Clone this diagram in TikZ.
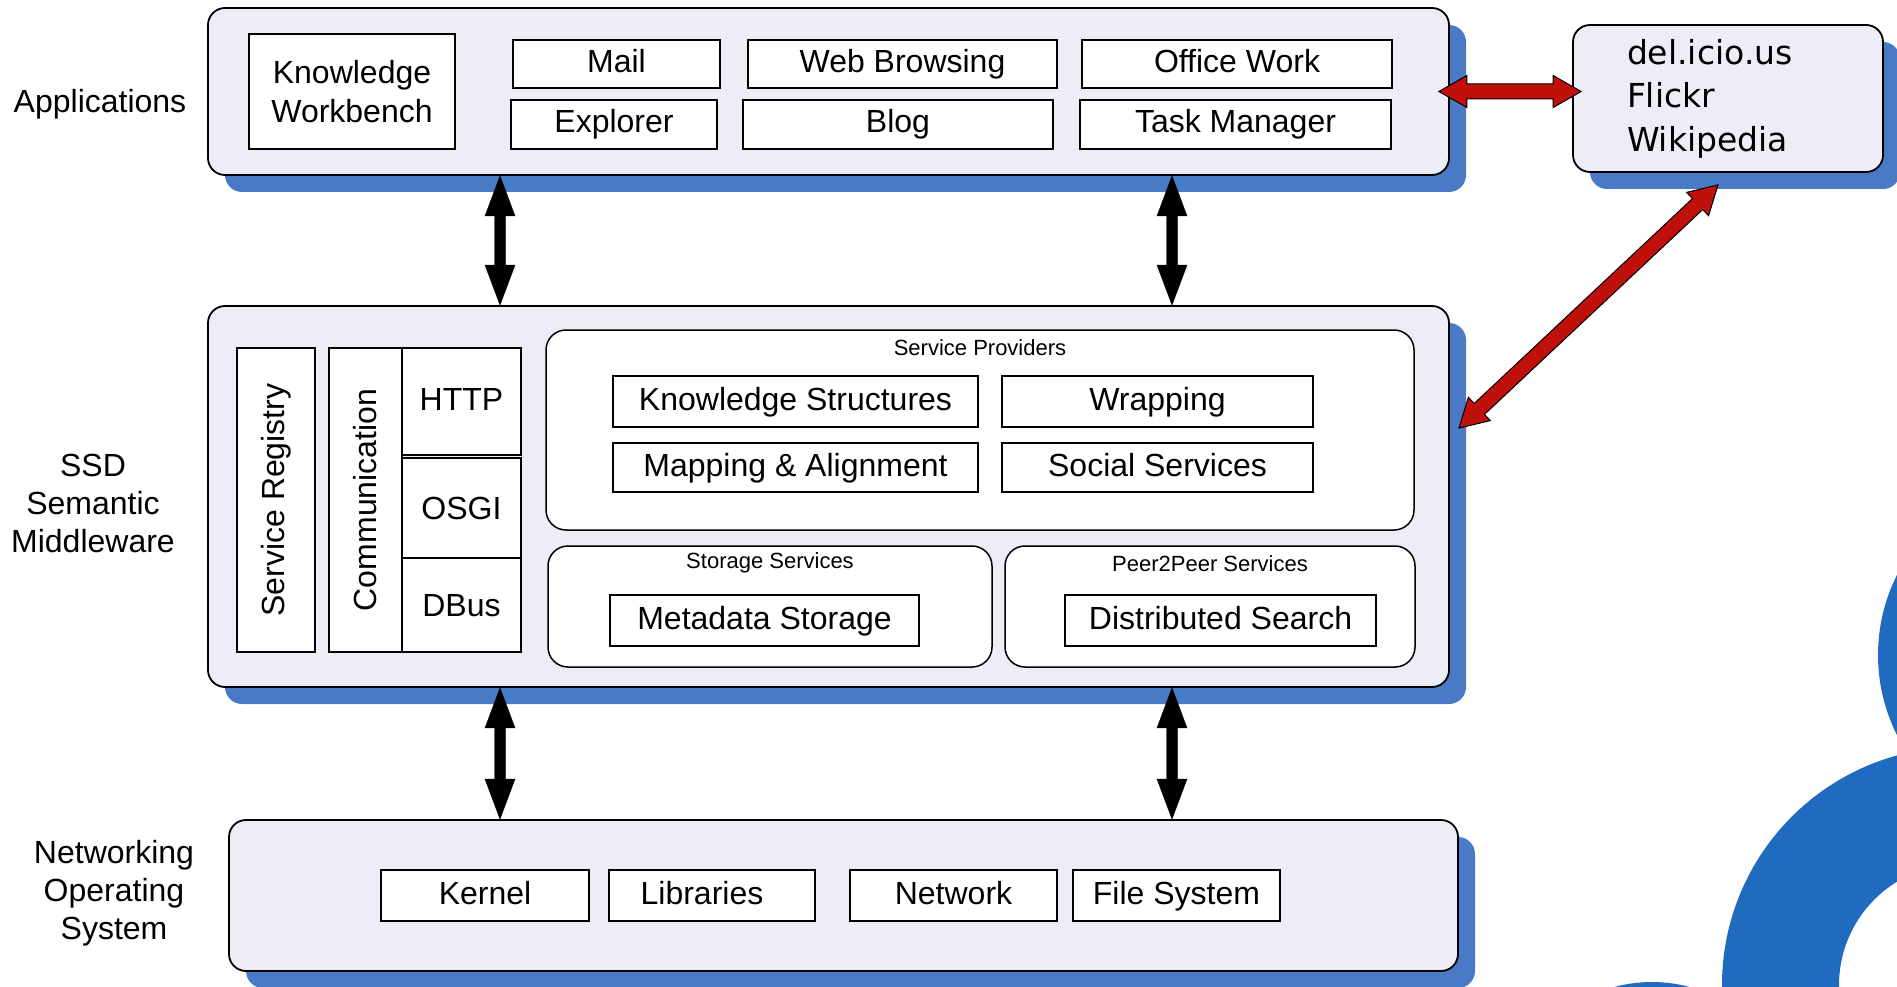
\documentclass[tikz,border=0pt]{standalone}
\usepackage{fontspec}
\setmainfont{Liberation Sans}
\newfontfamily\verafont{DejaVu Sans}
\usetikzlibrary{calc,shadows}

\definecolor{boxfill}{RGB}{236,237,246}
\definecolor{shadowblue}{RGB}{74,122,198}
\definecolor{logoblue}{RGB}{32,107,192}
\definecolor{arrowred}{RGB}{192,16,12}

% fat double-headed arrow: style, from, to, half shaft, half head width, head length
\newcommand{\fatarrow}[6]{%
  \draw[#1] (#2)
    -- ($(#2)!#6!(#3)!#5!90:(#3)$)
    -- ($(#2)!#6!(#3)!#4!90:(#3)$)
    -- ($(#3)!#6!(#2)!#4!-90:(#2)$)
    -- ($(#3)!#6!(#2)!#5!-90:(#2)$)
    -- (#3)
    -- ($(#3)!#6!(#2)!#5!90:(#2)$)
    -- ($(#3)!#6!(#2)!#4!90:(#2)$)
    -- ($(#2)!#6!(#3)!#4!-90:(#3)$)
    -- ($(#2)!#6!(#3)!#5!-90:(#3)$)
    -- cycle;}

\tikzset{
  % node spanning the rectangle with corners (#1,#2) and (#3,#4)
  area/.style n args={4}{minimum width={(#3-#1)*1pt}, minimum height={(#4-#2)*1pt},
    at={({(#1+#3)/2},{(#2+#4)/2})}},
  layerbox/.style={draw=black, line width=1.8pt, fill=boxfill, rounded corners=17pt,
    inner sep=0pt,
    drop shadow={shadow xshift=17pt, shadow yshift=-17pt, fill=shadowblue, opacity=1}},
  groupbox/.style={draw=black, line width=1.5pt, fill=white, rounded corners=20pt,
    inner sep=0pt},
  itembox/.style={draw=black, line width=1.5pt, fill=white, inner sep=0pt,
    font=\fontsize{32}{39}\selectfont, align=center},
  oneline/.style={text height=23pt, text depth=6pt},
  lowline/.style={text height=23pt, text depth=1pt},
  grouptitle/.style={font=\fontsize{22}{26}\selectfont, inner sep=0pt, anchor=center},
  sidelabel/.style={font=\fontsize{32}{38}\selectfont, align=center, inner sep=0pt},
}

\begin{document}
\begin{tikzpicture}[x=1pt, y=-1pt]
\useasboundingbox (0,0) rectangle (1897,987);

% decorative logo shapes at the lower right
\fill[logoblue] (2056,655) circle[radius=178pt];
\fill[logoblue, even odd rule] (1960,985) circle[radius=238pt] (1960,985) circle[radius=121pt];
\fill[logoblue] (1652,1125) circle[radius=143pt];

% layer labels
\node[sidelabel] (lapps) at (100,104) {Applications};
\node[sidelabel] (lssd) at (93,503) {SSD\\Semantic\\Middleware};
\node[sidelabel] (los) at (114,893) {Networking\\Operating\\System};

% main layers
\node[layerbox, area={208}{8}{1449}{175}] (apps) {};
\node[layerbox, area={1573}{25}{1883}{172},
      font=\verafont\fontsize{33}{43.5}\selectfont, align=left, text width=202pt] (del)
      {del.icio.us\\Flickr\\Wikipedia};
\node[layerbox, area={208}{306}{1449}{687}] (ssd) {};
\node[layerbox, area={229}{820}{1458}{971}] (os) {};

% applications
\node[itembox, area={249}{34}{455}{149}] (kw) {Knowledge\\Workbench};
\node[itembox, oneline, area={513}{40}{720}{88}] (mail) {Mail};
\node[itembox, oneline, area={511}{100}{717}{149}] (explorer) {Explorer};
\node[itembox, oneline, area={748}{40}{1057}{88}] (web) {Web Browsing};
\node[itembox, oneline, area={743}{100}{1053}{149}] (blog) {Blog};
\node[itembox, oneline, area={1082}{40}{1392}{88}] (office) {Office Work};
\node[itembox, oneline, area={1080}{100}{1391}{149}] (task) {Task Manager};

% middleware
\node[itembox, area={237}{348}{315}{652}] (registry) {\rotatebox{90}{Service Registry}};
\node[itembox, area={329}{348}{402}{652}] (comm) {\rotatebox{90}{Communication}};
\node[itembox, oneline, area={402}{348}{521}{455}] (http) {HTTP};
\node[itembox, lowline, area={402}{458}{521}{558}] (osgi) {OSGI};
\node[itembox, lowline, area={402}{558}{521}{652}] (dbus) {DBus};

\node[groupbox, area={546}{330}{1414}{530},
      label={[grouptitle, yshift=-18pt]north:Service Providers}] (providers) {};
\node[itembox, oneline, area={613}{376}{978}{427}] (ks) {Knowledge Structures};
\node[itembox, oneline, area={1002}{376}{1313}{427}] (wrap) {Wrapping};
\node[itembox, oneline, area={613}{443}{978}{492}] (mapping) {Mapping \& Alignment};
\node[itembox, oneline, area={1002}{443}{1313}{492}] (social) {Social Services};

\node[groupbox, area={548}{546}{992}{667},
      label={[grouptitle, yshift=-18pt]north:Storage Services}] (storage) {};
\node[itembox, oneline, area={610}{595}{919}{646}] (meta) {Metadata Storage};

\node[groupbox, area={1005}{546}{1415}{667},
      label={[grouptitle, yshift=-18pt]north:Peer2Peer Services}] (p2p) {};
\node[itembox, oneline, area={1065}{595}{1376}{646}] (search) {Distributed Search};

% operating system
\node[itembox, oneline, area={381}{870}{589}{921}] (kernel) {Kernel};
\node[itembox, oneline, area={609}{870}{815}{921}] (libs) {Libraries\kern20pt};
\node[itembox, oneline, area={850}{870}{1057}{921}] (net) {Network};
\node[itembox, oneline, area={1073}{870}{1280}{921}] (fs) {File System};

% connectors between the layers
\coordinate (ua1) at (500,0 |- apps.south);
\coordinate (ua2) at (500,0 |- ssd.north);
\coordinate (ub1) at (1172,0 |- apps.south);
\coordinate (ub2) at (1172,0 |- ssd.north);
\coordinate (la1) at (500,0 |- ssd.south);
\coordinate (la2) at (500,0 |- os.north);
\coordinate (lb1) at (1172,0 |- ssd.south);
\coordinate (lb2) at (1172,0 |- os.north);
\fatarrow{fill=black}{ua1}{ua2}{5.5pt}{15pt}{40pt}
\fatarrow{fill=black}{ub1}{ub2}{5.5pt}{15pt}{40pt}
\fatarrow{fill=black}{la1}{la2}{5.5pt}{15pt}{40pt}
\fatarrow{fill=black}{lb1}{lb2}{5.5pt}{15pt}{40pt}

% connectors to the web services
\path ([xshift=-11pt]apps.east) coordinate (ra1);
\path (ra1 -| del.west) ++(9pt,0) coordinate (ra2);
\path (ssd.north east) ++(9pt,-123pt) coordinate (rb1);
\path (del.south) ++(-10pt,-12pt) coordinate (rb2);
\fatarrow{fill=arrowred, draw=black, line width=1pt}{ra1}{ra2}{7.5pt}{16pt}{28pt}
\fatarrow{fill=arrowred, draw=black, line width=1pt}{rb1}{rb2}{7.5pt}{16pt}{28pt}
\end{tikzpicture}
\end{document}
